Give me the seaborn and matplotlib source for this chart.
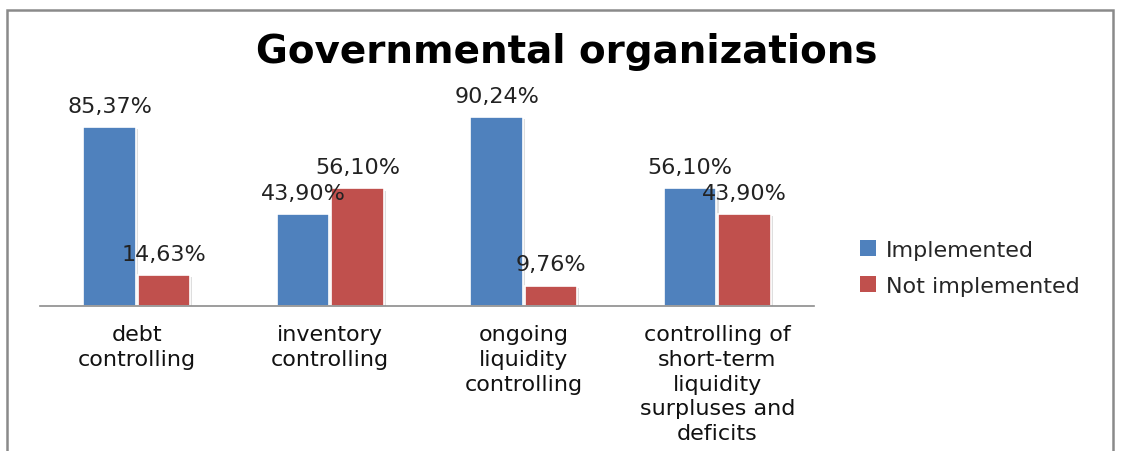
import matplotlib
matplotlib.use("Agg")
import matplotlib.pyplot as plt
import seaborn as sns
import pandas as pd
from matplotlib.patches import Rectangle, Patch
import matplotlib.patheffects as pe

categories = ["debt\ncontrolling", "inventory\ncontrolling",
              "ongoing\nliquidity\ncontrolling",
              "controlling of\nshort-term\nliquidity\nsurpluses and\ndeficits"]
series = ["Implemented", "Not implemented"]
implemented = [85.37, 43.90, 90.24, 56.10]
not_implemented = [14.63, 56.10, 9.76, 43.90]
colors = ["#4F81BD", "#C0504D"]

df = pd.DataFrame({
    "category": categories * 2,
    "series": [series[0]] * 4 + [series[1]] * 4,
    "value": implemented + not_implemented,
})

sns.set_style("white")
plt.rcParams["font.family"] = ["DejaVu Sans"]

fig = plt.figure(figsize=(11.25, 4.52), dpi=100)
ax = fig.add_axes([40/1125, 1 - 307/452, 774/1125, 209.5/452])

sns.barplot(data=df, x="category", y="value", hue="series", palette=colors,
            width=0.56, gap=0.03, ax=ax, legend=False, saturation=1,
            edgecolor="white", linewidth=1.2)

for p in ax.patches:
    p.set_path_effects([pe.SimplePatchShadow(offset=(1.5, -1.5), shadow_rgbFace="#c8c8c8", alpha=0.6),
                        pe.Normal()])

for cont in ax.containers:
    labels = [f"{v:.2f}".replace(".", ",") + "%" for v in cont.datavalues]
    ax.bar_label(cont, labels=labels, padding=8, fontsize=16, color="#222222")

ax.set_ylim(0, 100)
ax.set_xlim(-0.5, 3.5)
ax.set_xlabel("")
ax.set_ylabel("")
ax.set_yticks([])
ax.tick_params(axis="x", length=0, pad=13, labelsize=16, labelcolor="#111111")
for s in ["left", "right", "top"]:
    ax.spines[s].set_visible(False)
ax.spines["bottom"].set_color("#8c8c8c")
ax.spines["bottom"].set_linewidth(1.2)
for lbl in ax.get_xticklabels():
    lbl.set_linespacing(1.3)

fig.text(0.504, 1 - 63/452, "Governmental organizations", ha="center", va="baseline",
         fontsize=28, fontweight="bold", color="black")

handles = [Patch(facecolor=c, edgecolor="none") for c in colors]
fig.legend(handles, series, loc="upper left", bbox_to_anchor=(860/1125, 1 - 241/452),
           frameon=False, fontsize=16, handlelength=0.7, handleheight=0.7,
           handletextpad=0.45, labelspacing=0.7, borderaxespad=0, borderpad=0)

fig.patches.append(Rectangle((7/1125, -0.1), (1113 - 7)/1125, 1.1 - 11/452 + 0.0,
                             transform=fig.transFigure, fill=False,
                             edgecolor="#8a8a8a", linewidth=1.8, clip_on=False))

fig.savefig("out.png", dpi=100)
